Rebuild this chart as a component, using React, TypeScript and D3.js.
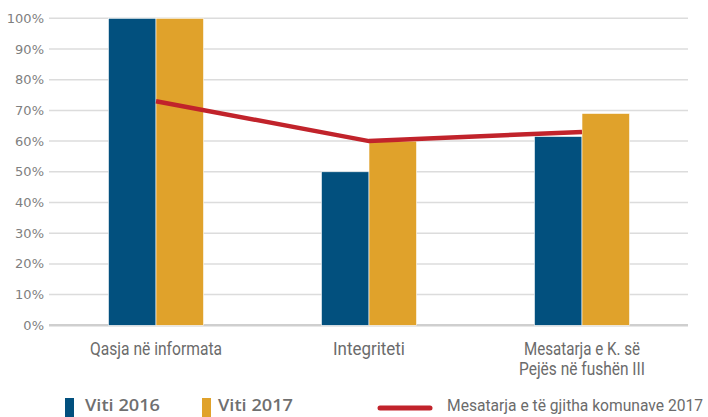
import React from "react";
import * as d3 from "d3";

const categories = ["Qasja në informata", "Integriteti", "Mesatarja e K. së\nPejës në fushën III"];
const series = ["Viti 2016", "Viti 2017"];
const values2016 = [100, 50, 61.5];
const values2017 = [100, 60, 69];
const average2017 = [73, 60, 63];
const yTicks = [0, 10, 20, 30, 40, 50, 60, 70, 80, 90, 100];
const lineLabel = "Mesatarja e të gjitha komunave 2017";

const W = 708, H = 417;
const colors = { "Viti 2016": "#02507e", "Viti 2017": "#e0a22b" };
const red = "#c1232b";
// rough text widths
const labelWidths = [[132], [72], [116, 126]];

const App = () => {
  const x0 = d3.scaleBand().domain(categories).range([49.5, 688.5]).padding(0);
  const x1 = d3.scaleBand().domain(series).range([0, x0.bandwidth()]).paddingInner(0).paddingOuter(1.24);
  const y = d3.scaleLinear().domain([0, 100]).range([325.3, 18.3]);

  const rows = categories.map((c, i) => ({ c, v: [values2016[i], values2017[i]] }));
  const cx = (c) => x0(c) + x0.bandwidth() / 2;
  const line = d3.line().x((d, i) => cx(categories[i])).y(d => y(d));

  return (
    <div style={{ position: "absolute", left: 0, top: 0 }}>
      <svg width={W} height={H} style={{ display: "block", background: "#fff" }}>
        {/* grid */}
        {yTicks.map(t => (
          <g key={t}>
            <line x1={49} x2={688} y1={y(t)} y2={y(t)}
              stroke={t === 0 ? "#cfcfcf" : "#dcdcdc"} strokeWidth={t === 0 ? 2.5 : 1.5} />
            <text x={44} y={y(t)} dy="0.35em" textAnchor="end" fill="#7f7f7f"
              style={{ font: "13px 'DejaVu Sans'" }}>{t}%</text>
          </g>
        ))}

        {/* bars */}
        {rows.map(r => (
          <g key={r.c} transform={`translate(${x0(r.c)},0)`}>
            {series.map((s, j) => (
              <rect key={s} x={x1(s)} width={x1.bandwidth()} y={y(r.v[j])}
                height={y(0) - y(r.v[j])} fill={colors[s]} stroke="#fff" strokeWidth={0.6} />
            ))}
          </g>
        ))}

        {/* average line */}
        <path d={line(average2017)} fill="none" stroke={red} strokeWidth={4.5} />

        {/* category labels */}
        {categories.map((c, i) => c.split("\n").map((part, k) => (
          <text key={c + k} x={cx(c)} y={355 + k * 20} textAnchor="middle" fill="#6b6b6b"
            textLength={labelWidths[i][k]} lengthAdjust="spacingAndGlyphs"
            style={{ font: "18px Roboto" }}>{part}</text>
        )))}

        {/* legend */}
        <rect x={65} y={398} width={9} height={19} fill={colors["Viti 2016"]} />
        <text x={85} y={411} fill="#6f6f6f" textLength={75} lengthAdjust="spacingAndGlyphs"
          style={{ font: "600 17px 'Open Sans'" }}>{series[0]}</text>
        <rect x={202} y={398} width={9} height={19} fill={colors["Viti 2017"]} />
        <text x={218} y={411} fill="#6f6f6f" textLength={75} lengthAdjust="spacingAndGlyphs"
          style={{ font: "600 17px 'Open Sans'" }}>{series[1]}</text>
        <line x1={380} x2={430} y1={408} y2={408} stroke={red} strokeWidth={5} strokeLinecap="round" />
        <text x={447} y={411} fill="#6b6b6b" textLength={256} lengthAdjust="spacingAndGlyphs"
          style={{ font: "16px Roboto" }}>{lineLabel}</text>
      </svg>
    </div>
  );
};

export default App;
